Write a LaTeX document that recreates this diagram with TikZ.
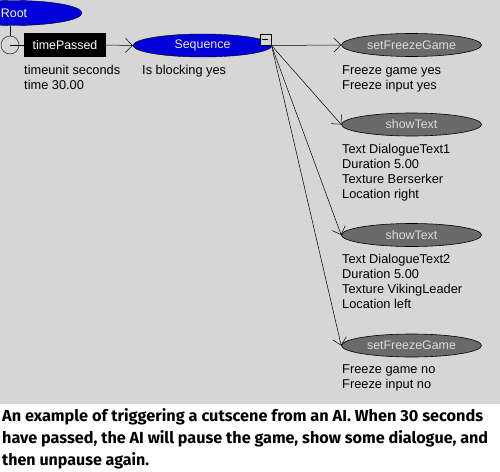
\documentclass[tikz,border=0pt]{standalone}
\usepackage{fontspec}
\setmainfont{Liberation Sans}
\newfontfamily\capfont{Fira Sans}
\usetikzlibrary{arrows.meta,shapes.geometric}
\definecolor{bggray}{HTML}{D6D6D6}
\definecolor{nodeblue}{HTML}{0000D8}
\definecolor{nodegray}{HTML}{6A6A6A}
\definecolor{lighttxt}{HTML}{DCDCDC}
\begin{document}
\begin{tikzpicture}[x=1pt,y=-1pt,
  nfont/.style={font=\fontsize{12.4}{15}\selectfont},
  lbl/.style={font=\fontsize{12.8}{15}\selectfont, anchor=north west, inner sep=0pt, align=left, text=black},
  blueell/.style={ellipse, draw=black, fill=nodeblue, text=white, inner sep=0pt, nfont},
  grayell/.style={ellipse, draw=black, line width=0.6pt, fill=nodegray, text=lighttxt, minimum width=140pt, minimum height=23pt, inner sep=0pt, nfont},
  conn/.style={draw=black, line width=0.5pt, -{Straight Barb[length=7pt,width=14pt]}},
  capline/.style={font=\capfont\bfseries\fontsize{16}{20}\selectfont, anchor=base west, inner sep=0pt}]
\useasboundingbox (0,0) rectangle (500,471);
\fill[bggray] (0,0) rectangle (500,404);
\fill[white] (0,404) rectangle (500,471);
\begin{scope}
\clip (0,0) rectangle (500,404);
% Root
\draw[fill=nodeblue] (14,13) ellipse [x radius=68pt, y radius=12.5pt];
\node[text=white, nfont, inner sep=0pt] (root) at (14,13) {Root};
\end{scope}
\coordinate (rootb) at (10,25.5);
% circle
\node[circle, draw=black, minimum size=18pt, inner sep=0pt] (circ) at (10,45) {};
\draw (rootb) -- (circ.north);
% timePassed
\node[fill=black, text=white, minimum width=82pt, minimum height=24pt, inner sep=0pt, nfont] (tp) at (65,45) {timePassed};
\draw (circ.center) -- (tp.west);
\node[lbl] (tpl) at (24,65) {timeunit seconds\\time 30.00};
% Sequence
\node[blueell, minimum width=139pt, minimum height=23pt, text=lighttxt!60!white] (seq) at (202.5,45.5) {Sequence};
\draw[conn] (tp.east) -- (seq.west);
\node[lbl] (seql) at (142,65) {Is blocking yes};
\node[draw=black, fill=bggray, minimum size=11pt, inner sep=0pt] (sq) at (265.5,39.5) {};
\draw (sq.west) ++(2.5pt,0) -- ++(6pt,0);
\coordinate (hub) at (271.5,45.5);
% children
\node[grayell] (c1) at (411.5,45) {setFreezeGame};
\node[grayell] (c2) at (411.5,124.5) {showText};
\node[grayell] (c3) at (411.5,235) {showText};
\node[grayell] (c4) at (411.5,345.5) {setFreezeGame};
\foreach \c in {c1,c2,c3,c4} \draw[conn] (hub) -- (\c.west);
\node[lbl] (l1) at (342,65) {Freeze game yes\\Freeze input yes};
\node[lbl] (l2) at (342,144) {Text DialogueText1\\Duration 5.00\\Texture Berserker\\Location right};
\node[lbl] (l3) at (342,254) {Text DialogueText2\\Duration 5.00\\Texture VikingLeader\\Location left};
\node[lbl] (l4) at (342,364) {Freeze game no\\Freeze input no};
% caption
\node[capline] (cap1) at (2,421) {\resizebox{481pt}{\height}{An example of triggering a cutscene from an AI. When 30 seconds}};
\node[capline] (cap2) at (2,443) {\resizebox{486pt}{\height}{have passed, the AI will pause the game, show some dialogue, and}};
\node[capline] (cap3) at (2,465) {\resizebox{147pt}{\height}{then unpause again.}};
\end{tikzpicture}
\end{document}
